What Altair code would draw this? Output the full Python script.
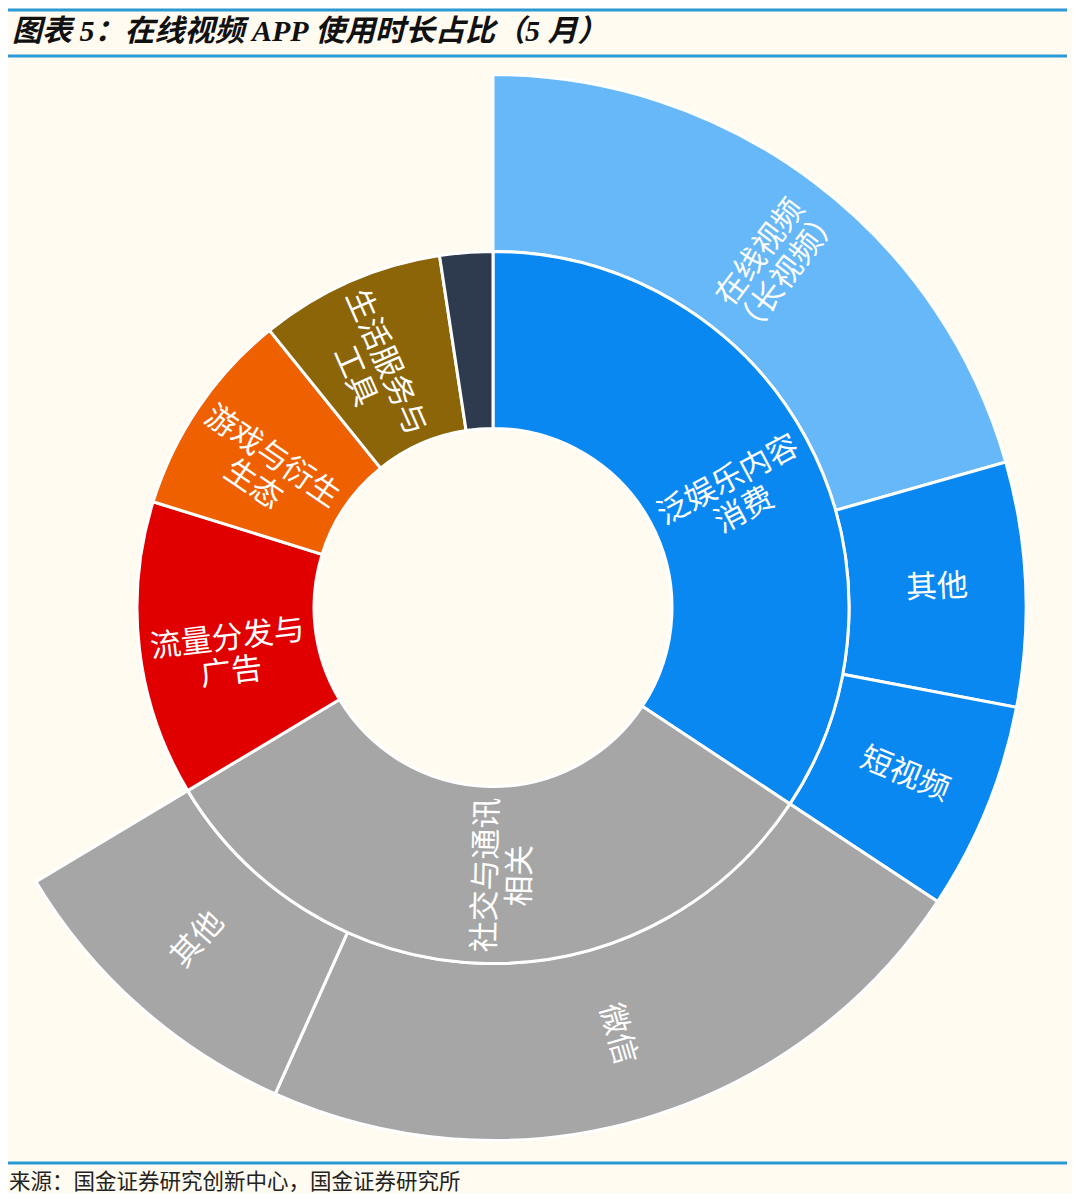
import altair as alt
import pandas as pd

# ---------------- data ----------------
inner_names = ["泛娱乐内容消费", "社交与通讯相关", "流量分发与广告", "游戏与衍生生态", "生活服务与工具", "其他"]
inner_labels = ["泛娱乐内容\n消费", "社交与通讯\n相关", "流量分发与\n广告", "游戏与衍生\n生态", "生活服务与\n工具", ""]
inner_values = [34.3, 32.1, 13.4, 9.4, 8.4, 2.4]
inner_colors = ["#0A88F2", "#A6A6A6", "#E00000", "#EF6000", "#8B6508", "#2E3B4E"]

outer_parents = ["泛娱乐内容消费", "泛娱乐内容消费", "泛娱乐内容消费", "社交与通讯相关", "社交与通讯相关"]
outer_names = ["在线视频（长视频）", "其他", "短视频", "微信", "其他"]
outer_labels = ["在线视频\n（长视频）", "其他", "短视频", "微信", "其他"]
outer_values = [20.6, 7.4, 6.3, 22.4, 9.7]
outer_colors = ["#66B8F8", "#0A88F2", "#0A88F2", "#A6A6A6", "#A6A6A6"]

title_text = "图表 5：在线视频 APP 使用时长占比（5 月）"
source_text = "来源：国金证券研究创新中心，国金证券研究所"

# ---------------- tables ----------------
inner_df = pd.DataFrame({
    "name": inner_names,
    "label": inner_labels,
    "value": inner_values,
    "color": inner_colors,
    "order": list(range(len(inner_names))),
})

rows = []
k = 0
for pname, pval, pcol in zip(inner_names, inner_values, inner_colors):
    kids = [i for i, p in enumerate(outer_parents) if p == pname]
    if kids:
        for i in kids:
            rows.append({"name": outer_names[i], "label": outer_labels[i], "value": outer_values[i],
                         "color": outer_colors[i], "alpha": 1.0, "order": k})
            k += 1
    else:
        rows.append({"name": pname, "label": "", "value": pval,
                     "color": pcol, "alpha": 0.0, "order": k})
        k += 1
outer_df = pd.DataFrame(rows)

CX, CY = 485, 599.5
R_HOLE, R_MID, R_OUT = 179, 356, 533
FONT = "Noto Sans CJK SC"


def rot_transforms(ch):
    return (ch.transform_joinaggregate(total="sum(value)")
              .transform_window(cum="sum(value)", sort=[alt.SortField("order")], frame=[None, 0])
              .transform_calculate(mid="(datum.cum - datum.value / 2) / datum.total * 360")
              .transform_calculate(rot="datum.mid < 180 ? datum.mid - 90 + 360 : datum.mid - 270 + 360"))


inner_arc = alt.Chart(inner_df).mark_arc(radius=R_MID, radius2=R_HOLE, stroke="white", strokeWidth=3).encode(
    theta=alt.Theta("value:Q", stack=True),
    order=alt.Order("order:Q"),
    color=alt.Color("color:N", scale=None),
    x=alt.value(CX), y=alt.value(CY),
)

outer_arc = alt.Chart(outer_df).mark_arc(radius=R_OUT, radius2=R_MID, stroke="white", strokeWidth=3).encode(
    theta=alt.Theta("value:Q", stack=True),
    order=alt.Order("order:Q"),
    color=alt.Color("color:N", scale=None),
    opacity=alt.Opacity("alpha:Q", scale=None),
    x=alt.value(CX), y=alt.value(CY),
)

inner_txt = rot_transforms(alt.Chart(inner_df)).mark_text(
    radius=(R_HOLE + R_MID) / 2, font=FONT, fontSize=31, color="white",
    lineBreak="\n", lineHeight=34, align="center", baseline="middle",
).encode(
    theta=alt.Theta("value:Q", stack=True),
    order=alt.Order("order:Q"),
    text="label:N",
    angle=alt.Angle("rot:Q", scale=None),
    x=alt.value(CX), y=alt.value(CY),
)

outer_txt = rot_transforms(alt.Chart(outer_df)).mark_text(
    radius=(R_MID + R_OUT) / 2, font=FONT, fontSize=31, color="white",
    lineBreak="\n", lineHeight=34, align="center", baseline="middle",
).encode(
    theta=alt.Theta("value:Q", stack=True),
    order=alt.Order("order:Q"),
    text="label:N",
    angle=alt.Angle("rot:Q", scale=None),
    x=alt.value(CX), y=alt.value(CY),
)

one = pd.DataFrame({"a": [0]})
LINE_COL = "#2A9AD6"
line1 = alt.Chart(one).mark_rule(color=LINE_COL, strokeWidth=3).encode(x=alt.value(0), x2=alt.value(1059), y=alt.value(2))
line2 = alt.Chart(one).mark_rule(color=LINE_COL, strokeWidth=3).encode(x=alt.value(0), x2=alt.value(1059), y=alt.value(48))
line3 = alt.Chart(one).mark_rule(color=LINE_COL, strokeWidth=3).encode(x=alt.value(0), x2=alt.value(1059), y=alt.value(1155))

title = alt.Chart(pd.DataFrame({"t": [title_text]})).mark_text(
    align="left", baseline="middle", font="Liberation Serif, " + FONT, fontSize=30,
    fontStyle="italic", fontWeight="bold", color="#111111",
).encode(x=alt.value(4), y=alt.value(24), text="t:N")

source = alt.Chart(pd.DataFrame({"t": [source_text]})).mark_text(
    align="left", baseline="middle", font="Liberation Serif, " + FONT, fontSize=21.5, color="#222222",
).encode(x=alt.value(1), y=alt.value(1175), text="t:N")

chart = alt.layer(
    outer_arc, inner_arc, outer_txt, inner_txt, line1, line2, line3, title, source
).properties(
    width=1064, height=1185, background="#FFFBF0", padding=0,
    autosize=alt.AutoSizeParams(type="none"),
).configure_view(stroke=None)

chart.save("out.html", embed_options={"renderer": "svg", "actions": False})
